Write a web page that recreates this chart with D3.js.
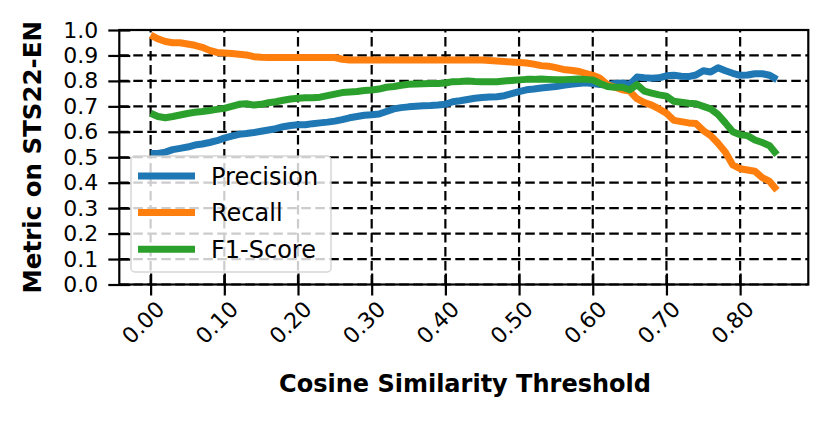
<!DOCTYPE html>
<html>
<head>
<meta charset="utf-8">
<script src="https://cdn.jsdelivr.net/npm/d3@7"></script>
<style>
  html, body { margin: 0; padding: 0; background: #fff; }
  svg { display: block; font-family: "DejaVu Sans", sans-serif; }
</style>
</head>
<body>
<div id="chart"></div>
<script>
// thresholds on the x axis
const thresholds = [
  0.00, 0.01, 0.02, 0.03, 0.04, 0.05, 0.06, 0.07, 0.08, 0.09,
  0.10, 0.11, 0.12, 0.13, 0.14, 0.15, 0.16, 0.17, 0.18, 0.19,
  0.20, 0.21, 0.22, 0.23, 0.24, 0.25, 0.26, 0.27, 0.28, 0.29,
  0.30, 0.31, 0.32, 0.33, 0.34, 0.35, 0.36, 0.37, 0.38, 0.39,
  0.40, 0.41, 0.42, 0.43, 0.44, 0.45, 0.46, 0.47, 0.48, 0.49,
  0.50, 0.51, 0.52, 0.53, 0.54, 0.55, 0.56, 0.57, 0.58, 0.59,
  0.60, 0.61, 0.62, 0.63, 0.64, 0.65, 0.66, 0.67, 0.68, 0.69,
  0.70, 0.71, 0.72, 0.73, 0.74, 0.75, 0.76, 0.77, 0.78, 0.79,
  0.80, 0.81, 0.82, 0.83, 0.84, 0.85
];

const precision = [
  0.515, 0.515, 0.520, 0.530, 0.535, 0.540, 0.548, 0.552, 0.558, 0.565,
  0.575, 0.583, 0.590, 0.593, 0.597, 0.602, 0.607, 0.612, 0.620, 0.625,
  0.628, 0.628, 0.632, 0.635, 0.638, 0.642, 0.648, 0.655, 0.660, 0.665,
  0.667, 0.670, 0.680, 0.690, 0.695, 0.698, 0.700, 0.702, 0.703, 0.705,
  0.708, 0.718, 0.722, 0.727, 0.732, 0.735, 0.737, 0.738, 0.742, 0.750,
  0.758, 0.765, 0.768, 0.772, 0.775, 0.778, 0.783, 0.787, 0.790, 0.793,
  0.790, 0.786, 0.784, 0.790, 0.792, 0.785, 0.815, 0.812, 0.810, 0.812,
  0.820, 0.822, 0.818, 0.817, 0.823, 0.840, 0.835, 0.852, 0.840, 0.830,
  0.822, 0.823, 0.828, 0.828, 0.822, 0.805
];

const recall = [
  0.980, 0.965, 0.955, 0.950, 0.950, 0.945, 0.940, 0.932, 0.920, 0.912,
  0.910, 0.908, 0.905, 0.902, 0.895, 0.893, 0.892, 0.892, 0.892, 0.892,
  0.892, 0.892, 0.892, 0.892, 0.892, 0.892, 0.885, 0.882, 0.882, 0.882,
  0.882, 0.882, 0.882, 0.882, 0.882, 0.882, 0.882, 0.882, 0.882, 0.882,
  0.882, 0.882, 0.882, 0.882, 0.882, 0.882, 0.880, 0.878, 0.876, 0.874,
  0.872, 0.870, 0.866, 0.860, 0.858, 0.852, 0.845, 0.842, 0.838, 0.830,
  0.822, 0.810, 0.785, 0.775, 0.765, 0.760, 0.730, 0.715, 0.705, 0.690,
  0.673, 0.645, 0.640, 0.635, 0.633, 0.605, 0.585, 0.555, 0.520, 0.470,
  0.455, 0.450, 0.445, 0.420, 0.405, 0.370
];

const f1 = [
  0.673, 0.660, 0.655, 0.660, 0.666, 0.672, 0.677, 0.680, 0.684, 0.688,
  0.692, 0.700, 0.708, 0.710, 0.705, 0.708, 0.714, 0.718, 0.724, 0.729,
  0.732, 0.734, 0.734, 0.736, 0.742, 0.748, 0.754, 0.756, 0.758, 0.762,
  0.764, 0.768, 0.775, 0.778, 0.783, 0.787, 0.788, 0.789, 0.790, 0.790,
  0.792, 0.797, 0.798, 0.800, 0.798, 0.797, 0.797, 0.797, 0.800, 0.802,
  0.804, 0.806, 0.806, 0.807, 0.806, 0.805, 0.805, 0.806, 0.807, 0.806,
  0.804, 0.790, 0.778, 0.775, 0.775, 0.765, 0.785, 0.760, 0.752, 0.745,
  0.740, 0.720, 0.716, 0.712, 0.710, 0.700, 0.690, 0.668, 0.635, 0.600,
  0.588, 0.585, 0.568, 0.558, 0.545, 0.510
];

const seriesNames = ["Precision", "Recall", "F1-Score"];
const seriesColors = ["#1f77b4", "#ff7f0e", "#2ca02c"];
const xTicks = [0.0, 0.1, 0.2, 0.3, 0.4, 0.5, 0.6, 0.7, 0.8];
const yTicks = [0.0, 0.1, 0.2, 0.3, 0.4, 0.5, 0.6, 0.7, 0.8, 0.9, 1.0];

const width = 831;
const height = 422;
const plot = { left: 119.3, right: 808.3, top: 30, bottom: 284.5 };

const series = [precision, recall, f1].map((vals, i) => ({
    name: seriesNames[i],
    color: seriesColors[i],
    values: vals.map((v, j) => ({ t: thresholds[j], v: v }))
}));

const x = d3.scaleLinear()
    .domain([-0.0425, 0.8925])
    .range([plot.left, plot.right]);

const y = d3.scaleLinear()
    .domain([0, 1])
    .range([plot.bottom, plot.top]);

const svg = d3.select("#chart")
    .append("svg")
    .attr("width", width)
    .attr("height", height);

// grid
const grid = svg.append("g").attr("class", "grid")
    .attr("stroke", "#000")
    .attr("stroke-width", 2.2)
    .attr("stroke-dasharray", "9.5,4.5");

grid.selectAll("line.gx")
    .data(xTicks)
    .enter().append("line")
    .attr("class", "gx")
    .attr("x1", d => x(d)).attr("x2", d => x(d))
    .attr("y1", plot.bottom).attr("y2", plot.top);

grid.selectAll("line.gy")
    .data(yTicks)
    .enter().append("line")
    .attr("class", "gy")
    .attr("x1", plot.left).attr("x2", plot.right)
    .attr("y1", d => y(d)).attr("y2", d => y(d));

// lines
const line = d3.line()
    .x(d => x(d.t))
    .y(d => y(d.v));

svg.append("g")
    .attr("class", "lines")
    .selectAll("path")
    .data(series)
    .enter().append("path")
    .attr("d", d => line(d.values))
    .attr("fill", "none")
    .attr("stroke", d => d.color)
    .attr("stroke-width", 7)
    .attr("stroke-linejoin", "round")
    .attr("stroke-linecap", "butt");

// spines
svg.append("rect")
    .attr("x", plot.left)
    .attr("y", plot.top)
    .attr("width", plot.right - plot.left)
    .attr("height", plot.bottom - plot.top)
    .attr("fill", "none")
    .attr("stroke", "#000")
    .attr("stroke-width", 2.2);

// axes
const xAxis = svg.append("g")
    .attr("transform", `translate(0,${plot.bottom})`)
    .call(d3.axisBottom(x).tickValues(xTicks).tickFormat(d3.format(".2f")).tickSize(10));

xAxis.select(".domain").remove();
xAxis.selectAll(".tick line")
    .attr("y1", -11).attr("y2", 11)
    .attr("stroke", "#000").attr("stroke-width", 2.2);
xAxis.selectAll(".tick text")
    .attr("y", null).attr("dy", "0.35em")
    .attr("transform", "translate(-8,38) rotate(-45)")
    .style("text-anchor", "middle")
    .style("font-size", "22px")
    .style("font-family", "DejaVu Sans")
    .attr("fill", "#000");

const yAxis = svg.append("g")
    .attr("transform", `translate(${plot.left},0)`)
    .call(d3.axisLeft(y).tickValues(yTicks).tickFormat(d3.format(".1f")).tickSize(10));

yAxis.select(".domain").remove();
yAxis.selectAll(".tick line")
    .attr("x1", -11).attr("x2", 11)
    .attr("stroke", "#000").attr("stroke-width", 2.2);
yAxis.selectAll(".tick text")
    .attr("x", -21)
    .style("font-size", "22px")
    .style("font-family", "DejaVu Sans")
    .attr("fill", "#000");

// axis titles
svg.append("text")
    .attr("x", 465)
    .attr("y", 392)
    .attr("text-anchor", "middle")
    .style("font-size", "24px")
    .style("font-weight", "bold")
    .text("Cosine Similarity Threshold");

svg.append("text")
    .attr("transform", `translate(32,${(plot.top + plot.bottom) / 2}) rotate(-90)`)
    .attr("text-anchor", "middle")
    .attr("dy", "0.35em")
    .style("font-size", "24.5px")
    .style("font-weight", "bold")
    .text("Metric on STS22-EN");

// legend
const legend = svg.append("g").attr("class", "legend");

legend.append("rect")
    .attr("x", 131)
    .attr("y", 156)
    .attr("width", 200)
    .attr("height", 116)
    .attr("rx", 4)
    .attr("fill", "#fff")
    .attr("fill-opacity", 0.8)
    .attr("stroke", "#cccccc")
    .attr("stroke-opacity", 0.8)
    .attr("stroke-width", 1.5);

const items = legend.selectAll("g.item")
    .data(series)
    .enter().append("g")
    .attr("class", "item")
    .attr("transform", (d, i) => `translate(0,${176 + i * 36.6})`);

items.append("line")
    .attr("x1", 138).attr("x2", 195)
    .attr("y1", 0).attr("y2", 0)
    .attr("stroke", d => d.color)
    .attr("stroke-width", 7);

items.append("text")
    .attr("x", 211)
    .attr("dy", "0.36em")
    .style("font-size", "24px")
    .text(d => d.name);
</script>
</body>
</html>
